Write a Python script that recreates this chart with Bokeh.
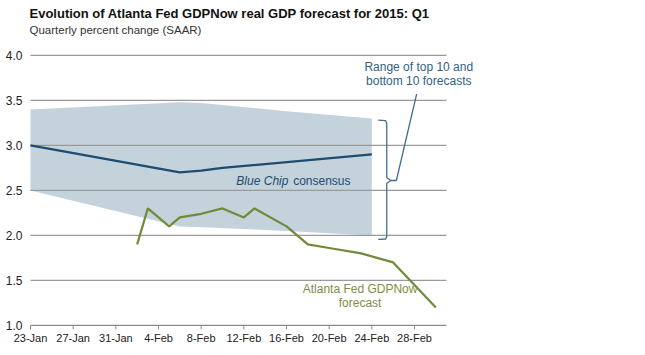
import pandas as pd
from bokeh.plotting import figure
from bokeh.models import Range1d, Label, ColumnDataSource
from bokeh.core.properties import value
from bokeh.embed import file_html
from bokeh.resources import INLINE

# ---------------- data ----------------
start_date = "2015-01-23"
end_date = "2015-03-03"

bc_dates = ["2015-01-23", "2015-02-06", "2015-02-08", "2015-02-10", "2015-02-24"]
bc_values = [3.0, 2.7, 2.72, 2.75, 2.9]

range_dates = ["2015-01-23", "2015-02-06", "2015-02-08", "2015-02-16", "2015-02-24"]
range_high = [3.4, 3.48, 3.47, 3.38, 3.3]
range_low = [2.5, 2.1, 2.09, 2.05, 2.0]

gdp_dates = ["2015-02-02", "2015-02-03", "2015-02-05", "2015-02-06", "2015-02-08",
             "2015-02-10", "2015-02-12", "2015-02-13", "2015-02-16", "2015-02-18",
             "2015-02-20", "2015-02-23", "2015-02-26", "2015-03-02"]
gdp_values = [1.9, 2.3, 2.1, 2.2, 2.24, 2.3, 2.2, 2.3, 2.1, 1.9, 1.86, 1.8, 1.7, 1.2]

tick_dates = ["2015-01-23", "2015-01-27", "2015-01-31", "2015-02-04", "2015-02-08",
              "2015-02-12", "2015-02-16", "2015-02-20", "2015-02-24", "2015-02-28"]
tick_labels = ["23-Jan", "27-Jan", "31-Jan", "4-Feb", "8-Feb",
               "12-Feb", "16-Feb", "20-Feb", "24-Feb", "28-Feb"]
y_ticks = [1.0, 1.5, 2.0, 2.5, 3.0, 3.5, 4.0]
y_tick_labels = ["1.0", "1.5", "2.0", "2.5", "3.0", "3.5", "4.0"]

# bracket annotation (in days since start / percent)
bracket_x = [32.6, 33.3, 33.4, 33.4, 33.8, 33.4, 33.4, 33.3, 32.6]
bracket_y = [3.28, 3.275, 3.24, 2.64, 2.61, 2.58, 1.99, 1.96, 1.955]
leader_x = [33.8, 34.3, 36.2]
leader_y = [2.61, 2.61, 3.57]

# --------------------------------------
t0 = pd.Timestamp(start_date)
def days(lst):
    return [(pd.Timestamp(d) - t0).days for d in lst]

x_end = (pd.Timestamp(end_date) - t0).days

FONT = "Liberation Sans"
BLUE = "#1c4c72"
BAND = "#c4d2db"
GREEN = "#718a3a"
TXT_BLUE = "#2f5f86"
TXT_GREEN = "#7d9042"
AXIS_GRAY = "#8c8c8c"

PX_PER_UNIT = 90.0      # vertical pixels per percentage point
PX_PER_DAY = 600 / 56.25
W, H = 630, 347
LEFT = 30               # pixel position of the start date
y_top = 4.61
p = figure(width=W, height=H, output_backend="svg", toolbar_location=None,
           x_range=Range1d(-LEFT / PX_PER_DAY, (W - LEFT) / PX_PER_DAY),
           y_range=Range1d(y_top - H / PX_PER_UNIT, y_top),
           min_border_left=0, min_border_top=0, min_border_right=0, min_border_bottom=0)
p.outline_line_color = None
p.background_fill_color = "white"
p.border_fill_color = "white"
p.axis.visible = False
p.grid.visible = False

# band
band = p.varea(x=days(range_dates), y1=range_low, y2=range_high, fill_color=BAND)
band.level = "image"

# horizontal grid lines across the date span
gl = p.segment(x0=[0] * 6, x1=[x_end] * 6, y0=y_ticks[1:], y1=y_ticks[1:],
               line_color="#9a9a9a", line_width=1.2)
gl.level = "underlay"

# x axis: baseline, ticks and labels
xt = days(tick_dates)
y0 = y_ticks[0]
p.segment(x0=[0], x1=[x_end], y0=[y0], y1=[y0], line_color=AXIS_GRAY, line_width=1.3)
p.segment(x0=xt, x1=xt, y0=[y0] * len(xt), y1=[y0 - 4 / PX_PER_UNIT] * len(xt),
          line_color=AXIS_GRAY, line_width=1)
xsrc = ColumnDataSource(dict(x=xt, y=[y0] * len(xt), t=tick_labels))
p.text(x="x", y="y", text="t", source=xsrc, y_offset=13,
       text_font=value(FONT), text_font_size="11px", text_color="#222222",
       text_align="center", text_baseline="middle")

# y axis labels
ysrc = ColumnDataSource(dict(x=[0] * len(y_ticks), y=y_ticks, t=y_tick_labels))
p.text(x="x", y="y", text="t", source=ysrc, x_offset=-8,
       text_font=value(FONT), text_font_size="12px", text_color="#222222",
       text_align="right", text_baseline="middle")

# lines
p.line(days(bc_dates), bc_values, line_color=BLUE, line_width=2.2)
p.line(days(gdp_dates), gdp_values, line_color=GREEN, line_width=2.2)

# bracket
p.line(bracket_x, bracket_y, line_color="#3f6d8f", line_width=1.3)
p.line(leader_x, leader_y, line_color="#3f6d8f", line_width=1.3)

def lab(text, x, y, xo=0, yo=0, size="12px", color="#222", style="normal", align="left"):
    p.add_layout(Label(x=x, y=y, x_offset=xo, y_offset=yo, text=text,
                       text_font=FONT, text_font_size=size, text_color=color,
                       text_font_style=style, text_align=align, text_baseline="middle"))

# title / subtitle
lab("Evolution of Atlanta Fed GDPNow real GDP forecast for 2015: Q1", 0, 4.0,
    xo=-1, yo=42, size="13px", color="#111111", style="bold")
lab("Quarterly percent change (SAAR)", 0, 4.0, xo=-1, yo=25, size="11.5px", color="#333333")

# annotations
lab("Blue Chip", 19.3, 2.6, size="12px", color=BLUE, style="italic")
lab("consensus", 30.0, 2.6, size="12px", color=BLUE, align="right")
lab("Range of top 10 and", 36.4, 3.87, size="12px", color=TXT_BLUE, align="center")
lab("bottom 10 forecasts", 36.4, 3.715, size="12px", color=TXT_BLUE, align="center")
lab("Atlanta Fed GDPNow", 30.9, 1.41, size="12px", color=TXT_GREEN, align="center")
lab("forecast", 30.9, 1.25, size="12px", color=TXT_GREEN, align="center")

open("out.html", "w").write(file_html(p, INLINE))
